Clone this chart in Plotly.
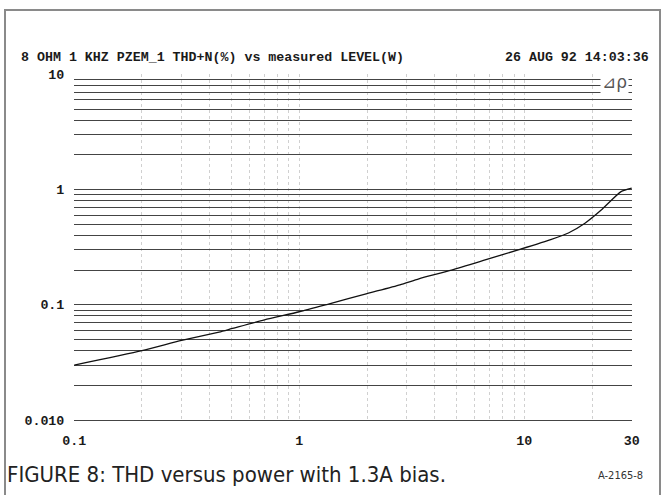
import plotly.graph_objects as go

# ---- data ----
power_w = [0.1, 0.2, 0.3, 0.44, 0.5, 0.7, 1.0, 1.36, 2.0, 2.8, 3.4, 4.75,
           6.7, 9.4, 13.2, 15.7, 18.6, 21.9, 26.9, 30]
thd_pct = [0.030, 0.040, 0.049, 0.058, 0.062, 0.074, 0.087, 0.102, 0.125,
           0.149, 0.168, 0.20, 0.245, 0.30, 0.37, 0.42, 0.51, 0.66, 0.96, 1.03]

x_grid = [0.1, 0.2, 0.3, 0.4, 0.5, 0.6, 0.7, 0.8, 0.9,
          1, 2, 3, 4, 5, 6, 7, 8, 9, 10, 20, 30]
x_tick_vals = [0.1, 1, 10, 30]
x_tick_text = ["0.1", "1", "10", "30"]

y_grid = [0.01, 0.02, 0.03, 0.04, 0.05, 0.06, 0.07, 0.08, 0.09,
          0.1, 0.2, 0.3, 0.4, 0.5, 0.6, 0.7, 0.8, 0.9,
          1, 2, 3, 4, 5, 6, 7, 8, 9, 10]
y_tick_vals = [0.01, 0.1, 1, 10]
y_tick_text = ["0.010", "0.1", "1", "10"]

title_left = "8 OHM 1 KHZ PZEM_1 THD+N(%) vs measured LEVEL(W)"
title_right = "26 AUG 92 14:03:36"
caption = "FIGURE 8: THD versus power with 1.3A bias."
figure_id = "A-2165-8"
marker_text = "⊿ρ"

# ---- layout geometry (pixels) ----
W, H = 665, 495
L, R, T, B = 74, 33, 74, 75
pw, ph = W - L - R, H - T - B


def px(x):
    return (x - L) / pw


def py(y):
    return (H - B - y) / ph


x_text = [x_tick_text[x_tick_vals.index(v)] if v in x_tick_vals else "" for v in x_grid]
y_text = [y_tick_text[y_tick_vals.index(v)] if v in y_tick_vals else "" for v in y_grid]

mono = "Liberation Mono, DejaVu Sans Mono, monospace"
mono_font = dict(family=mono, size=13.3, color="#1a1a1a", weight="bold")

fig = go.Figure()
fig.add_trace(go.Scatter(
    x=power_w, y=thd_pct, mode="lines",
    line=dict(color="#111111", width=1.3, shape="spline", smoothing=0.6),
    hoverinfo="skip", showlegend=False,
))

fig.update_layout(
    width=W, height=H,
    margin=dict(l=L, r=R, t=T, b=B),
    paper_bgcolor="white", plot_bgcolor="white",
    xaxis=dict(
        type="log", range=[-1.001, 1.4785],
        tickmode="array", tickvals=x_grid, ticktext=x_text,
        showgrid=True, gridcolor="#d0d0d0", griddash="dot", gridwidth=1,
        zeroline=False, showline=True, linecolor="#444444", linewidth=1.4,
        ticks="outside", ticklen=8, tickcolor="rgba(0,0,0,0)",
        tickfont=mono_font,
    ),
    yaxis=dict(
        type="log", range=[-2.0, 1.003],
        tickmode="array", tickvals=y_grid, ticktext=y_text,
        showgrid=True, gridcolor="#444444", gridwidth=1.4,
        zeroline=False, showline=False,
        ticks="outside", ticklen=6, tickcolor="rgba(0,0,0,0)",
        tickfont=mono_font,
    ),
    shapes=[
        dict(type="rect", xref="paper", yref="paper",
             x0=px(5), x1=px(660), y0=py(500), y1=py(10),
             line=dict(color="#8a8a8a", width=2), fillcolor="rgba(0,0,0,0)",
             layer="above"),
    ],
    annotations=[
        dict(text=title_left, xref="paper", yref="paper", x=px(19), y=py(57),
             xanchor="left", yanchor="middle", showarrow=False, font=mono_font),
        dict(text=title_right, xref="paper", yref="paper", x=px(651), y=py(57),
             xanchor="right", yanchor="middle", showarrow=False, font=mono_font),
        dict(text=marker_text, xref="paper", yref="paper", x=px(614), y=py(82),
             xanchor="center", yanchor="middle", showarrow=False,
             bgcolor="white", borderpad=1,
             font=dict(family="DejaVu Sans", size=17, color="#555555")),
        dict(text=caption, xref="paper", yref="paper", x=px(5), y=py(474),
             xanchor="left", yanchor="middle", showarrow=False,
             font=dict(family="Liberation Sans Narrow, DejaVu Sans Condensed, Arial Narrow, sans-serif",
                       size=22, color="#222222")),
        dict(text=figure_id, xref="paper", yref="paper", x=px(645), y=py(475),
             xanchor="right", yanchor="middle", showarrow=False,
             font=dict(family="Liberation Sans Narrow, DejaVu Sans Condensed, sans-serif",
                       size=11, color="#333333")),
    ],
)

fig.write_html("out.html")
